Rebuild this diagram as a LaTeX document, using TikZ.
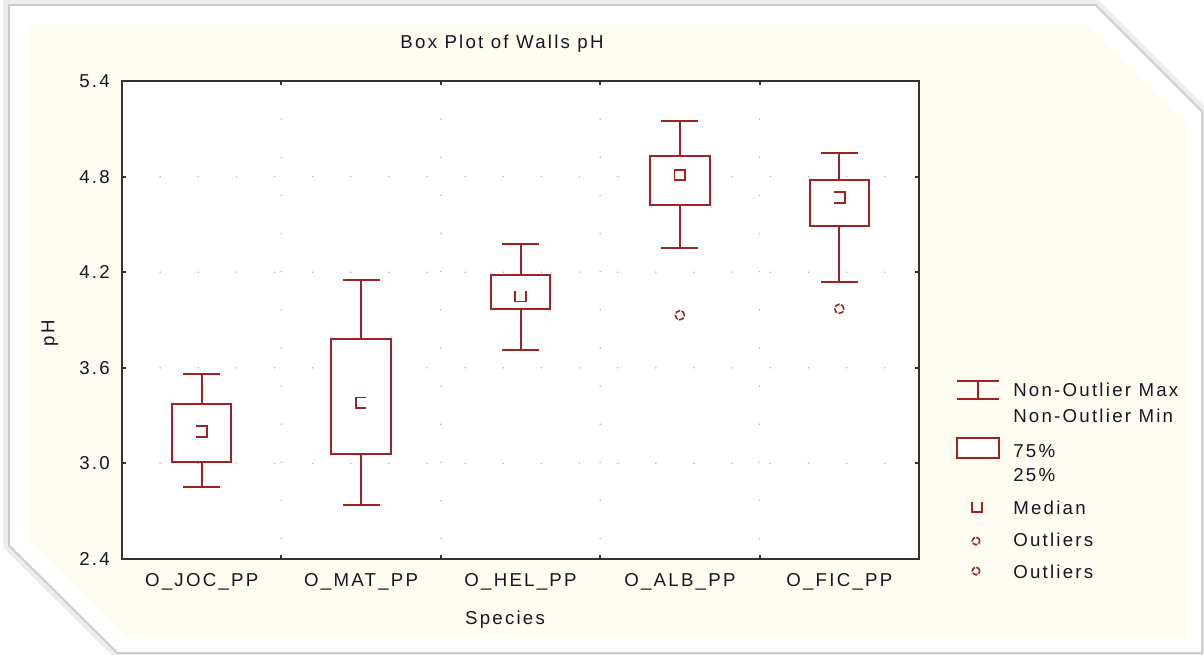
\documentclass[tikz,border=0pt]{standalone}
\usepackage{fontspec}
\setmainfont{Liberation Sans}[LetterSpace=12]
\usetikzlibrary{positioning}

\definecolor{boxred}{RGB}{158,36,36}
\definecolor{cream}{RGB}{255,252,241}
\definecolor{inktext}{RGB}{22,22,38}
\definecolor{griddot}{RGB}{185,185,185}
\definecolor{axisgray}{RGB}{50,50,50}

\newcommand{\chartfont}{\fontsize{14}{16}\selectfont}

\tikzset{
    whisker/.style={
        draw=boxred,
        line width=1.5pt
    },
    iqrbox/.style={
        draw=boxred,
        fill=white,
        line width=1.5pt
    },
    medmark/.style={
        draw=boxred,
        line width=1.3pt
    },
    outlier/.style={
        draw=boxred,
        line width=1.2pt,
        dash pattern=on 4pt off 1pt
    },
    gridline/.style={
        griddot,
        line width=1.3pt,
        line cap=round,
        dash pattern=on 0pt off 28.6pt
    },
    axisline/.style={
        draw=axisgray,
        line width=1.5pt
    },
    ticklabel/.style={
        font=\chartfont,
        text=inktext,
        anchor=east,
        inner sep=0pt
    },
    catlabel/.style={
        font=\chartfont,
        text=inktext,
        inner sep=0pt
    },
    legendtext/.style={
        font=\chartfont,
        text=inktext,
        anchor=west,
        inner sep=0pt
    }
}

\begin{document}
\begin{tikzpicture}[x=0.75pt, y=-0.75pt]
    \useasboundingbox (0,0) rectangle (1204,654);

    % Frame
    \draw[gray!14, line width=10pt, line join=miter] (10,6) -- (1095,6) -- (1201,112) -- (1201,652) -- (118,652) -- (10,545) -- cycle;
    \draw[gray!40, line width=3pt, line join=miter] (10,6) -- (1095,6) -- (1201,112) -- (1201,652) -- (118,652) -- (10,545) -- cycle;
    \fill[white] (10,6) -- (1095,6) -- (1201,112) -- (1201,652) -- (118,652) -- (10,545) -- cycle;
    \fill[cream] (28,25) -- (1088,25) -- (1188,125) -- (1188,637) -- (126,637) -- (28,539) -- cycle;

    % Title
    \node[catlabel] (title) at (502,44) {Box Plot of Walls pH};

    % Axis titles
    \node[catlabel, rotate=90] (ylabel) at (50,333) {pH};
    \node[catlabel] (xlabel) at (505,620) {Species};

    \begin{scope}[shift={(31.725pt,-706.05pt)}, x=119.55pt, y=119.5pt]
        % Plot area
        \fill[white] (0.5,2.4) rectangle (5.5,5.4);
        \foreach \v in {3.0,3.6,4.2,4.8}
            \draw[gridline] (0.5,\v) -- (5.5,\v);
        \foreach \c in {1.5,2.5,3.5,4.5}
            \draw[gridline] (\c,5.4) -- (\c,2.4);

        % Boxes
        \foreach \i/\wmax/\qup/\qmed/\qlow/\wmin/\mk in {
            1/3.56/3.37/3.20/3.01/2.85/{(-4pt,4pt) -- (4pt,4pt) -- (4pt,-4pt) -- (-4pt,-4pt)},
            2/4.15/3.78/3.38/3.06/2.74/{(4pt,4pt) -- (-4pt,4pt) -- (-4pt,-4pt) -- (4pt,-4pt)},
            3/4.38/4.18/4.05/3.97/3.71/{(-4pt,4pt) -- (-4pt,-4pt) -- (4pt,-4pt) -- (4pt,4pt)},
            4/5.15/4.93/4.81/4.62/4.35/{(-4pt,-4pt) rectangle (4pt,4pt)},
            5/4.95/4.78/4.67/4.49/4.14/{(-4pt,4pt) -- (4pt,4pt) -- (4pt,-4pt) -- (-4pt,-4pt)}} {
            \draw[whisker] (\i,\wmax) -- (\i,\qup);
            \draw[whisker] (\i,\qlow) -- (\i,\wmin);
            \draw[whisker] (\i-0.116,\wmax) -- (\i+0.116,\wmax);
            \draw[whisker] (\i-0.116,\wmin) -- (\i+0.116,\wmin);
            \draw[iqrbox] (\i-0.186,\qlow) rectangle (\i+0.186,\qup);
            \draw[medmark, shift={(\i,\qmed)}] \mk;
        }

        % Outliers
        \draw[outlier] (4,3.93) circle[radius=3.4pt];
        \draw[outlier] (5,3.97) circle[radius=3.4pt];

        % Axes and ticks
        \draw[axisline] (0.5,2.4) rectangle (5.5,5.4);
        \foreach \v in {3.0,3.6,4.2,4.8} {
            \draw[axisline] (0.5,\v) -- ++(3pt,0);
            \draw[axisline] (5.5,\v) -- ++(-3pt,0);
        }
        \foreach \c in {1.5,2.5,3.5,4.5} {
            \draw[axisline] (\c,5.4) -- ++(0,-3pt);
            \draw[axisline] (\c,2.4) -- ++(0,3pt);
        }

        % Tick labels
        \foreach \v in {2.4,3.0,3.6,4.2,4.8,5.4}
            \node[ticklabel] (tick\v) at (0.425,\v) {\v};
        \foreach \i/\name in {1/O\_JOC\_PP,2/O\_MAT\_PP,3/O\_HEL\_PP,4/O\_ALB\_PP,5/O\_FIC\_PP}
            \node[catlabel] (cat\i) at (\i,2.256) {\name};
    \end{scope}

    % Legend
    \draw[whisker] (957,381) -- (999,381);
    \draw[whisker] (957,399) -- (999,399);
    \draw[whisker] (978,381) -- (978,399);
    \draw[iqrbox] (957,438) rectangle (999,458);
    \draw[medmark, shift={(977,507)}] (-3.6pt,3.6pt) -- (-3.6pt,-3.6pt) -- (3.6pt,-3.6pt) -- (3.6pt,3.6pt);
    \draw[outlier] (976,541) circle[radius=2.8pt];
    \draw[outlier] (976,571) circle[radius=2.8pt];

    \node[legendtext] (lgmax) at (1013,390) {Non-Outlier Max};
    \node[legendtext] (lgmin) at (1013,416) {Non-Outlier Min};
    \node[legendtext] (lgup) at (1013,451) {75\%};
    \node[legendtext] (lglow) at (1013,475) {25\%};
    \node[legendtext] (lgmed) at (1013,508) {Median};
    \node[legendtext] (lgout) at (1013,540) {Outliers};
    \node[legendtext] (lgext) at (1013,572) {Outliers};

\end{tikzpicture}
\end{document}
